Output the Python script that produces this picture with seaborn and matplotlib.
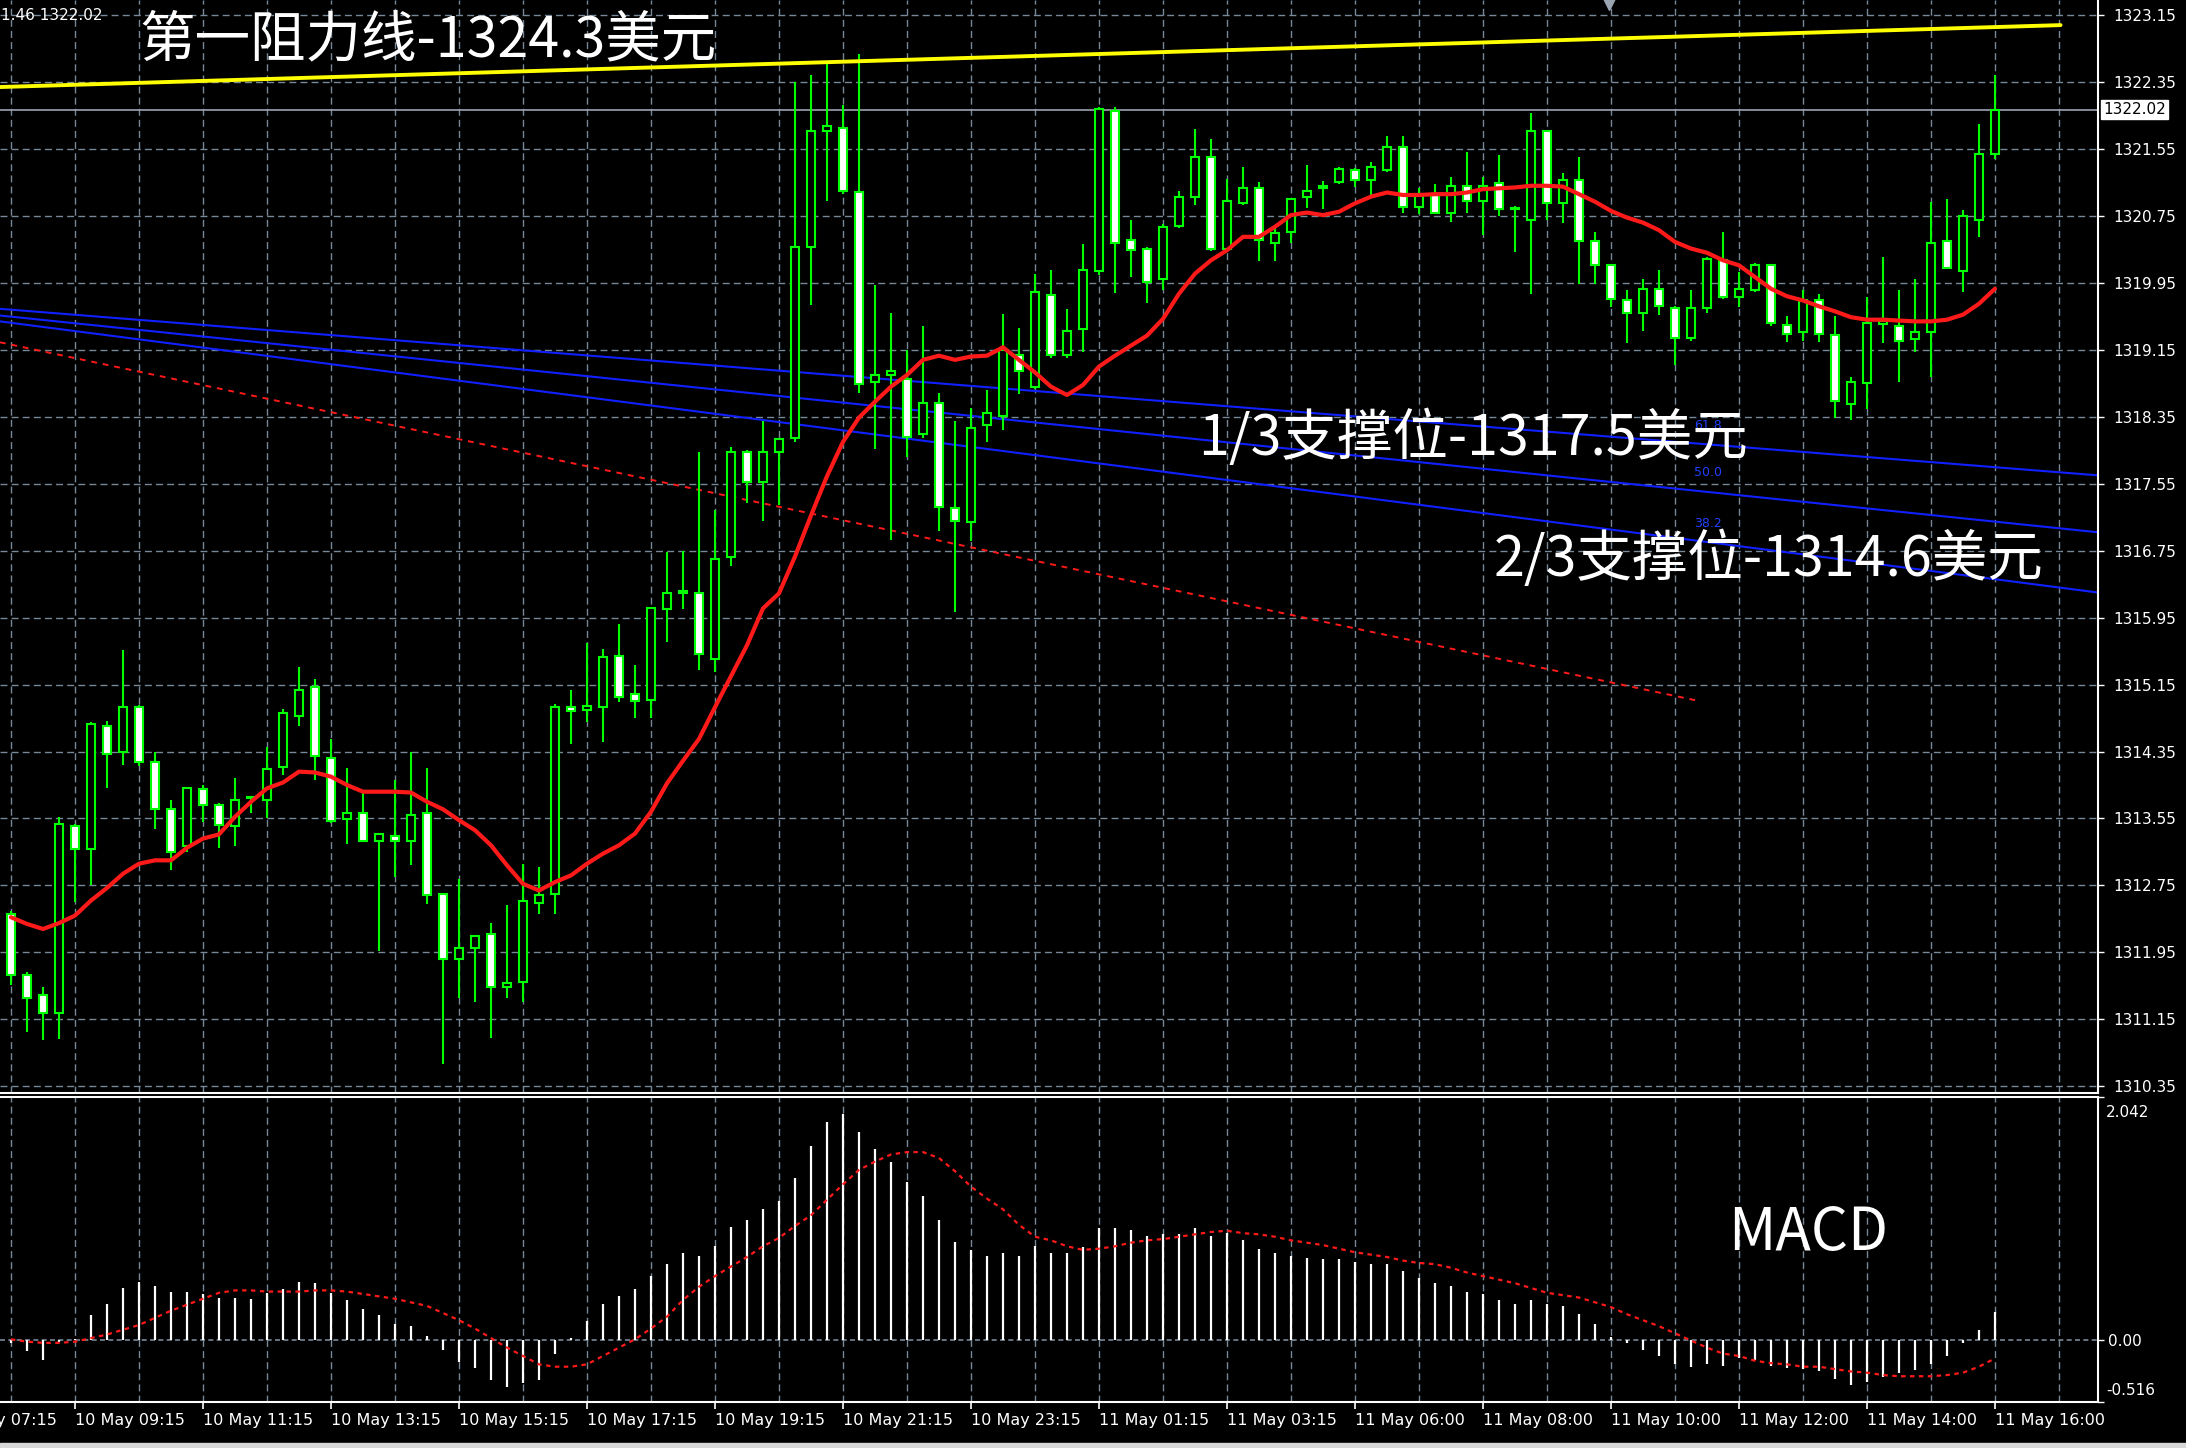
import matplotlib
matplotlib.use("Agg")
import matplotlib.pyplot as plt
from matplotlib.patches import Rectangle
import pandas as pd
import seaborn as sns

# XAUUSD M15, 10-11 May
bar_open = [1312.41, 1311.68, 1311.44, 1311.22, 1313.46, 1313.18, 1314.66, 1314.34, 1314.88, 1314.23,
            1313.66, 1313.22, 1313.90, 1313.71, 1313.46, 1313.79, 1313.77, 1314.17, 1314.78, 1315.12,
            1314.27, 1313.54, 1313.61, 1313.28, 1313.34, 1313.28, 1313.61, 1312.65, 1311.87, 1312.00,
            1312.17, 1311.54, 1311.60, 1312.54, 1312.65, 1314.88, 1314.85, 1314.88, 1315.49, 1315.04,
            1314.97, 1316.05, 1316.25, 1316.25, 1315.45, 1316.67, 1317.93, 1317.57, 1317.93, 1318.10,
            1320.38, 1321.77, 1321.80, 1321.03, 1318.77, 1318.85, 1318.80, 1318.15, 1318.52, 1317.26,
            1317.09, 1318.25, 1318.36, 1319.09, 1318.71, 1319.81, 1319.09, 1319.40, 1320.09, 1322.00,
            1320.46, 1320.36, 1320.00, 1320.63, 1320.98, 1321.46, 1320.36, 1320.90, 1321.08, 1320.43,
            1320.56, 1320.98, 1321.08, 1321.15, 1321.30, 1321.18, 1321.30, 1321.57, 1320.86, 1321.01,
            1320.79, 1321.11, 1320.93, 1321.14, 1320.83, 1320.70, 1321.76, 1320.90, 1321.18, 1320.45,
            1320.16, 1319.74, 1319.59, 1319.88, 1319.65, 1319.29, 1319.65, 1320.22, 1319.78, 1319.86,
            1320.16, 1319.45, 1319.36, 1319.75, 1319.33, 1318.50, 1318.75, 1319.46, 1319.43, 1319.28,
            1319.36, 1320.45, 1320.09, 1320.70, 1321.49]
bar_high = [1312.45, 1311.71, 1311.54, 1313.57, 1313.48, 1314.70, 1314.71, 1315.56, 1314.91, 1314.35,
            1313.77, 1313.93, 1313.95, 1313.74, 1314.03, 1313.82, 1314.40, 1314.86, 1315.36, 1315.22,
            1314.50, 1314.15, 1313.85, 1313.38, 1314.01, 1314.35, 1314.15, 1312.66, 1312.83, 1312.16,
            1312.30, 1312.52, 1313.01, 1312.97, 1314.92, 1315.08, 1315.65, 1315.58, 1315.87, 1315.38,
            1316.07, 1316.74, 1316.75, 1317.93, 1317.24, 1317.99, 1317.95, 1318.30, 1318.10, 1322.35,
            1322.43, 1322.56, 1322.08, 1322.68, 1319.93, 1319.59, 1319.15, 1319.43, 1318.64, 1318.30,
            1318.46, 1318.67, 1319.58, 1319.41, 1320.06, 1320.10, 1319.64, 1320.41, 1322.05, 1322.05,
            1320.70, 1320.38, 1320.65, 1321.05, 1321.79, 1321.67, 1321.19, 1321.34, 1321.15, 1320.63,
            1320.96, 1321.36, 1321.17, 1321.33, 1321.32, 1321.39, 1321.70, 1321.70, 1321.08, 1321.13,
            1321.22, 1321.51, 1321.22, 1321.48, 1320.87, 1321.98, 1321.78, 1321.26, 1321.45, 1320.56,
            1320.18, 1319.86, 1320.00, 1320.10, 1319.67, 1319.86, 1320.26, 1320.56, 1320.08, 1320.19,
            1320.18, 1319.55, 1319.86, 1319.82, 1319.55, 1318.83, 1319.78, 1320.26, 1319.86, 1320.00,
            1320.92, 1320.95, 1320.82, 1321.85, 1322.43]
bar_low = [1311.56, 1311.00, 1310.90, 1310.92, 1312.55, 1312.76, 1313.91, 1314.19, 1314.18, 1313.43,
           1312.93, 1313.15, 1313.51, 1313.20, 1313.22, 1313.61, 1313.55, 1314.07, 1314.66, 1314.01,
           1313.50, 1313.24, 1313.27, 1311.97, 1312.85, 1312.99, 1312.53, 1310.62, 1311.40, 1311.36,
           1310.93, 1311.40, 1311.36, 1312.41, 1312.41, 1314.44, 1314.70, 1314.46, 1314.94, 1314.75,
           1314.75, 1315.66, 1316.05, 1315.32, 1315.30, 1316.57, 1317.32, 1317.11, 1317.29, 1318.05,
           1319.68, 1320.93, 1321.01, 1318.64, 1317.96, 1316.88, 1317.87, 1318.10, 1316.99, 1316.02,
           1316.86, 1318.05, 1318.19, 1318.62, 1318.68, 1319.05, 1319.05, 1319.12, 1320.05, 1319.83,
           1320.02, 1319.71, 1319.86, 1320.60, 1320.88, 1320.33, 1320.33, 1320.88, 1320.21, 1320.21,
           1320.43, 1320.85, 1320.83, 1321.13, 1321.09, 1320.99, 1321.28, 1320.78, 1320.77, 1320.78,
           1320.68, 1320.79, 1320.52, 1320.75, 1320.32, 1319.82, 1320.70, 1320.67, 1319.94, 1319.94,
           1319.66, 1319.23, 1319.37, 1319.57, 1318.97, 1319.26, 1319.59, 1319.76, 1319.66, 1319.84,
           1319.43, 1319.24, 1319.26, 1319.24, 1318.34, 1318.31, 1318.44, 1319.23, 1318.77, 1319.13,
           1318.83, 1320.11, 1319.84, 1320.50, 1321.43]
bar_close = [1311.68, 1311.41, 1311.22, 1313.49, 1313.18, 1314.68, 1314.32, 1314.88, 1314.22, 1313.66,
             1313.15, 1313.92, 1313.71, 1313.47, 1313.77, 1313.80, 1314.14, 1314.81, 1315.09, 1314.30,
             1313.52, 1313.61, 1313.28, 1313.37, 1313.28, 1313.59, 1312.63, 1311.87, 1312.00, 1312.15,
             1311.54, 1311.58, 1312.56, 1312.63, 1314.88, 1314.83, 1314.90, 1315.48, 1315.00, 1314.95,
             1316.07, 1316.25, 1316.27, 1315.52, 1316.65, 1317.93, 1317.57, 1317.93, 1318.08, 1320.38,
             1321.77, 1321.82, 1321.05, 1318.74, 1318.85, 1318.90, 1318.11, 1318.52, 1317.27, 1317.10,
             1318.21, 1318.39, 1319.15, 1318.90, 1319.84, 1319.09, 1319.38, 1320.10, 1322.03, 1320.43,
             1320.34, 1319.96, 1320.62, 1320.98, 1321.46, 1320.36, 1320.93, 1321.08, 1320.46, 1320.55,
             1320.95, 1321.05, 1321.11, 1321.31, 1321.18, 1321.34, 1321.57, 1320.86, 1321.01, 1320.79,
             1321.11, 1320.93, 1321.11, 1320.83, 1320.84, 1321.76, 1320.90, 1321.18, 1320.45, 1320.16,
             1319.76, 1319.59, 1319.88, 1319.67, 1319.29, 1319.65, 1320.24, 1319.78, 1319.88, 1320.16,
             1319.47, 1319.34, 1319.74, 1319.34, 1318.54, 1318.76, 1319.47, 1319.49, 1319.26, 1319.36,
             1320.43, 1320.13, 1320.75, 1321.49, 1322.02]
ma_line = [1312.37, 1312.29, 1312.23, 1312.30, 1312.39, 1312.57, 1312.72, 1312.89, 1313.01, 1313.05,
           1313.05, 1313.20, 1313.31, 1313.36, 1313.57, 1313.75, 1313.91, 1313.98, 1314.11, 1314.10,
           1314.05, 1313.95, 1313.87, 1313.87, 1313.87, 1313.86, 1313.75, 1313.66, 1313.53, 1313.41,
           1313.23, 1312.99, 1312.77, 1312.69, 1312.79, 1312.87, 1313.01, 1313.13, 1313.23, 1313.37,
           1313.63, 1313.97, 1314.24, 1314.50, 1314.88, 1315.25, 1315.62, 1316.06, 1316.24, 1316.68,
           1317.17, 1317.64, 1318.05, 1318.34, 1318.53, 1318.71, 1318.85, 1319.03, 1319.08, 1319.03,
           1319.07, 1319.08, 1319.18, 1319.03, 1318.88, 1318.71, 1318.61, 1318.73, 1318.95, 1319.08,
           1319.20, 1319.32, 1319.52, 1319.82, 1320.06, 1320.22, 1320.34, 1320.50, 1320.50, 1320.62,
           1320.76, 1320.79, 1320.76, 1320.80, 1320.90, 1320.98, 1321.03, 1321.00, 1321.00, 1321.01,
           1321.01, 1321.03, 1321.07, 1321.08, 1321.09, 1321.11, 1321.11, 1321.10, 1321.01, 1320.92,
           1320.81, 1320.73, 1320.67, 1320.58, 1320.44, 1320.36, 1320.31, 1320.22, 1320.16, 1320.02,
           1319.88, 1319.79, 1319.74, 1319.67, 1319.61, 1319.54, 1319.51, 1319.51, 1319.50, 1319.49,
           1319.49, 1319.51, 1319.57, 1319.70, 1319.88]
macd_hist = [-0.02, -0.09, -0.16, -0.01, 0.01, 0.21, 0.31, 0.44, 0.49, 0.46,
             0.41, 0.41, 0.39, 0.36, 0.36, 0.35, 0.40, 0.43, 0.49, 0.48,
             0.40, 0.34, 0.26, 0.21, 0.14, 0.12, 0.04, -0.08, -0.18, -0.23,
             -0.33, -0.39, -0.36, -0.33, -0.11, 0.02, 0.16, 0.31, 0.37, 0.43,
             0.54, 0.64, 0.73, 0.71, 0.79, 0.95, 1.01, 1.10, 1.17, 1.36,
             1.63, 1.83, 1.90, 1.75, 1.61, 1.50, 1.33, 1.21, 1.01, 0.83,
             0.76, 0.71, 0.73, 0.71, 0.79, 0.73, 0.73, 0.78, 0.94, 0.94,
             0.93, 0.88, 0.89, 0.89, 0.94, 0.88, 0.90, 0.84, 0.77, 0.73,
             0.71, 0.69, 0.68, 0.68, 0.66, 0.64, 0.64, 0.58, 0.52, 0.48,
             0.46, 0.41, 0.39, 0.34, 0.31, 0.34, 0.31, 0.29, 0.22, 0.14,
             0.03, -0.02, -0.08, -0.13, -0.20, -0.22, -0.20, -0.21, -0.15, -0.16,
             -0.21, -0.23, -0.24, -0.26, -0.32, -0.37, -0.35, -0.31, -0.27, -0.25,
             -0.20, -0.13, -0.02, 0.09, 0.24]
macd_signal = [0.01, -0.01, -0.02, -0.02, -0.01, 0.02, 0.05, 0.09, 0.13, 0.19,
               0.25, 0.30, 0.35, 0.40, 0.42, 0.42, 0.41, 0.41, 0.41, 0.42,
               0.42, 0.41, 0.39, 0.37, 0.35, 0.32, 0.29, 0.23, 0.17, 0.10,
               0.02, -0.06, -0.13, -0.20, -0.22, -0.22, -0.20, -0.13, -0.06, 0.01,
               0.10, 0.20, 0.34, 0.45, 0.54, 0.62, 0.70, 0.79, 0.86, 0.96,
               1.05, 1.18, 1.31, 1.43, 1.50, 1.56, 1.58, 1.58, 1.53, 1.42,
               1.29, 1.19, 1.10, 0.97, 0.87, 0.84, 0.79, 0.76, 0.77, 0.79,
               0.82, 0.84, 0.85, 0.87, 0.89, 0.91, 0.92, 0.90, 0.89, 0.87,
               0.84, 0.82, 0.80, 0.77, 0.74, 0.72, 0.70, 0.67, 0.65, 0.64,
               0.61, 0.57, 0.54, 0.51, 0.48, 0.44, 0.40, 0.38, 0.36, 0.32,
               0.28, 0.22, 0.17, 0.12, 0.06, 0.00, -0.06, -0.11, -0.13, -0.17,
               -0.19, -0.20, -0.22, -0.22, -0.24, -0.26, -0.27, -0.29, -0.30, -0.30,
               -0.30, -0.29, -0.27, -0.22, -0.15]

time_labels = ["10 May 07:15", "10 May 09:15", "10 May 11:15", "10 May 13:15", "10 May 15:15",
               "10 May 17:15", "10 May 19:15", "10 May 21:15", "10 May 23:15", "11 May 01:15",
               "11 May 03:15", "11 May 06:00", "11 May 08:00", "11 May 10:00", "11 May 12:00",
               "11 May 14:00", "11 May 16:00"]
time_label_bars = [-4, 4, 12, 20, 28, 36, 44, 52, 60, 68, 76, 84, 92, 100, 108, 116, 124]
price_ticks = [1310.35, 1311.15, 1311.95, 1312.75, 1313.55, 1314.35, 1315.15, 1315.95, 1316.75,
               1317.55, 1318.35, 1319.15, 1319.95, 1320.75, 1321.55, 1322.35, 1323.15]
price_labels = ["%.2f" % p for p in price_ticks]
macd_ticks = [-0.516, 0.0, 2.042]
macd_labels = ["-0.516", "0.00", "2.042"]
last_price = 1322.02

# drawn objects: (bar, price) end points
resistance_bars = [-0.69, 128.1]
resistance_prices = [1322.29, 1323.03]
fan_bars = [-0.69, 130.44]
fan_prices = [[1319.64, 1317.65], [1319.56, 1316.97], [1319.49, 1316.25]]
fan_levels = ["61.8", "50.0", "38.2"]
fan_label_prices = [1318.25, 1317.68, 1317.08]
old_trend_bars = [-0.69, 105.6]
old_trend_prices = [1319.24, 1314.95]

bars = pd.DataFrame({"open": bar_open, "high": bar_high, "low": bar_low, "close": bar_close,
                     "ma": ma_line, "hist": macd_hist, "signal": macd_signal})
bars["bar"] = range(len(bars))

GREEN = "#00ff00"
GRID = "#778899"
W, H = 2186, 1448

sns.set_theme(style="dark", rc={"axes.facecolor": "black", "figure.facecolor": "black"})
plt.rcParams["font.family"] = ["DejaVu Sans", "Noto Sans CJK SC"]
CJK = ["Noto Sans CJK SC", "DejaVu Sans"]

fig = plt.figure(figsize=(W / 100, H / 100), dpi=100)
fig.patch.set_facecolor("black")
ax = fig.add_axes([0, 1 - 1093 / H, 2098 / W, 1093 / H])
axm = fig.add_axes([0, 1 - 1402 / H, 2098 / W, 305 / H])
fig.patches.append(Rectangle((0, 0), 1, 5 / H, transform=fig.transFigure, color="#d8d8d8", zorder=10))

for a in (ax, axm):
    a.set_facecolor("black")
    a.set_xlim(-0.6875, 130.44)
    for s in a.spines.values():
        s.set_color("white")
        s.set_linewidth(1.5)
    a.spines["left"].set_visible(False)
    for b in range(0, 131, 4):
        a.axvline(b, color=GRID, lw=1.0, ls=(0, (5, 3)), zorder=0)
ax.spines["top"].set_visible(False)

# main price panel
ax.set_ylim(1310.27, 1323.33)
for p in price_ticks:
    ax.axhline(p, color=GRID, lw=1.0, ls=(0, (5, 3)), zorder=0)
ax.axhline(last_price, color="#9aa5b1", lw=1.2, zorder=1)

ax.plot(old_trend_bars, old_trend_prices, color="#ff1a1a", lw=1.4, ls=(0, (3, 3)), zorder=1)
for fp in fan_prices:
    ax.plot(fan_bars, fp, color="#1020ff", lw=1.5, zorder=1)
for lvl, lp in zip(fan_levels, fan_label_prices):
    ax.text(105.2, lp, lvl, color="#2040ff", fontsize=9, va="center", ha="left", zorder=2)

ax.vlines(bars["bar"], bars["low"], bars["high"], color=GREEN, lw=1.5, zorder=3)
body = (bars["close"] - bars["open"]).abs().clip(lower=0.015)
up = bars["close"] >= bars["open"]
ax.bar(bars["bar"][up], body[up], bottom=bars["open"][up], width=0.55,
       facecolor="black", edgecolor=GREEN, linewidth=1.5, zorder=4)
ax.bar(bars["bar"][~up], body[~up], bottom=bars["close"][~up], width=0.55,
       facecolor="white", edgecolor=GREEN, linewidth=1.5, zorder=4)

sns.lineplot(data=bars, x="bar", y="ma", ax=ax, color="#ff1a1a", lw=3.0, zorder=5)
ax.plot(resistance_bars, resistance_prices, color="#ffff00", lw=2.8, zorder=6)

ax.set_xlabel("")
ax.set_ylabel("")
ax.set_xticks([])
ax.yaxis.tick_right()
ax.set_yticks(price_ticks)
ax.set_yticklabels(price_labels)
ax.tick_params(axis="y", colors="white", labelcolor="white", labelsize=11, length=4, width=1, pad=7)
ax.text(1.0025, last_price, "1322.02", transform=ax.get_yaxis_transform(), color="black",
        fontsize=11, va="center", ha="left", zorder=10,
        bbox=dict(facecolor="white", edgecolor="white", boxstyle="square,pad=0.15"))
ax.plot([99.9], [1323.28], marker="v", color="#9aa5b1", ms=8, clip_on=False, zorder=7)

ax.text(8.0, 1322.84, "第一阻力线-1324.3美元", color="white", fontsize=40, family=CJK,
        va="center", ha="left", zorder=8)
ax.text(74.2, 1318.08, "1/3支撑位-1317.5美元", color="white", fontsize=40, family=CJK,
        va="center", ha="left", zorder=8)
ax.text(92.7, 1316.64, "2/3支撑位-1314.6美元", color="white", fontsize=40, family=CJK,
        va="center", ha="left", zorder=8)
fig.text(1 / W, 1 - 15 / H, "1.46 1322.02", color="white", fontsize=11, va="center", ha="left")

# MACD panel
axm.set_ylim(-0.516, 2.042)
axm.axhline(0, color=GRID, lw=1.2, ls=(0, (3, 2)), zorder=0)
axm.vlines(bars["bar"], 0, bars["hist"], color="white", lw=1.6, zorder=2)
sns.lineplot(data=bars, x="bar", y="signal", ax=axm, color="#ff1a1a", lw=1.6,
             linestyle=(0, (2, 2)), zorder=3)
axm.text(107.3, 0.90, "MACD", color="white", fontsize=42, family=CJK, va="center", ha="left")
axm.set_xlabel("")
axm.set_ylabel("")
axm.yaxis.tick_right()
axm.set_yticks(macd_ticks)
axm.set_yticklabels(["", macd_labels[1], ""])
axm.tick_params(axis="y", colors="white", labelcolor="white", labelsize=11, length=4, width=1, pad=3)
ytr = axm.get_yaxis_transform()
axm.annotate(macd_labels[2], xy=(1.0, macd_ticks[2]), xycoords=ytr, xytext=(6, -11),
             textcoords="offset points", color="white", fontsize=11, va="center", ha="left",
             annotation_clip=False)
axm.annotate(macd_labels[0], xy=(1.0, macd_ticks[0]), xycoords=ytr, xytext=(6, 8),
             textcoords="offset points", color="white", fontsize=11, va="center", ha="left",
             annotation_clip=False)
axm.set_xticks(time_label_bars[1:])
axm.set_xticklabels(time_labels[1:], ha="left")
axm.tick_params(axis="x", colors="white", labelcolor="white", labelsize=11.5, length=5, width=1.2,
                pad=3, bottom=True)
axm.annotate(time_labels[0], xy=(time_label_bars[0], -0.516), xycoords="data", xytext=(0, -8),
             textcoords="offset points", color="white", fontsize=11.5, ha="left", va="top",
             annotation_clip=False)

fig.savefig("out.png", dpi=100, facecolor="black")
